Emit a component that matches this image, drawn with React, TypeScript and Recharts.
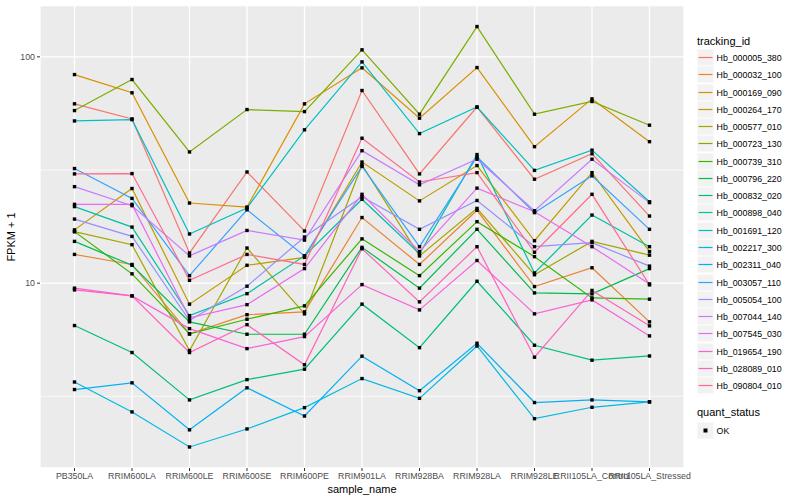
import React from 'react';
import { LineChart, Line, XAxis, YAxis, CartesianGrid, ReferenceLine } from 'recharts';

const samples = [
  'PB350LA', 'RRIM600LA', 'RRIM600LE', 'RRIM600SE', 'RRIM600PE', 'RRIM901LA',
  'RRIM928BA', 'RRIM928LA', 'RRIM928LE', 'RRII105LA_Control', 'RRII105LA_Stressed'
];

const trackingIds = [
  'Hb_000005_380', 'Hb_000032_100', 'Hb_000169_090', 'Hb_000264_170', 'Hb_000577_010',
  'Hb_000723_130', 'Hb_000739_310', 'Hb_000796_220', 'Hb_000832_020', 'Hb_000898_040',
  'Hb_001691_120', 'Hb_002217_300', 'Hb_002311_040', 'Hb_003057_110', 'Hb_005054_100',
  'Hb_007044_140', 'Hb_007545_030', 'Hb_019654_190', 'Hb_028089_010', 'Hb_090804_010'
];

const COLORS = [
  '#F8766D', '#EA8331', '#D89000', '#C09B00', '#A3A500', '#7CAE00', '#39B600', '#00BB4E',
  '#00BF7D', '#00C1A3', '#00BFC4', '#00BAE0', '#00B0F6', '#35A2FF', '#9590FF', '#C77CFF',
  '#E76BF3', '#FA62DB', '#FF62BC', '#FF6C90'
];

// FPKM + 1 per sample, one array per tracking_id
const hb000005_380 = [62.0, 53.2, 13.6, 31.0, 17.0, 71.0, 30.4, 60.0, 28.8, 37.3, 19.8];
const hb000032_100 = [13.4, 12.1, 5.97, 7.26, 7.47, 19.5, 12.1, 21.0, 9.66, 11.7, 6.75];
const hb000169_090 = [83.5, 69.4, 22.6, 21.7, 62.0, 89.4, 53.6, 89.7, 40.1, 65.2, 42.2];
const hb000264_170 = [17.2, 26.2, 8.08, 12.0, 13.0, 34.3, 23.1, 33.1, 15.4, 30.8, 13.8];
const hb000577_010 = [16.9, 14.8, 5.04, 14.3, 7.32, 33.3, 13.2, 21.4, 10.9, 15.3, 13.3];
const hb000723_130 = [57.9, 79.4, 38.0, 58.5, 57.3, 107.4, 55.8, 136.1, 55.8, 63.5, 49.9];
const hb000739_310 = [16.9, 11.0, 5.97, 6.93, 7.94, 15.7, 10.8, 18.7, 13.1, 8.61, 8.5];
const hb000796_220 = [15.3, 12.0, 6.75, 5.95, 5.95, 14.4, 9.51, 17.3, 9.06, 8.97, 11.6];
const hb000832_020 = [6.5, 4.94, 3.05, 3.75, 4.17, 8.08, 5.19, 10.2, 5.32, 4.57, 4.77];
const hb000898_040 = [21.8, 17.7, 7.19, 8.99, 13.2, 23.5, 13.5, 37.0, 11.1, 20.0, 14.5];
const hb001691_120 = [52.1, 52.8, 16.5, 21.5, 47.6, 95.0, 45.8, 60.0, 31.5, 38.7, 22.9];
const hb002217_300 = [3.66, 2.7, 1.89, 2.27, 2.82, 3.79, 3.1, 5.28, 2.52, 2.83, 2.99];
const hb002311_040 = [3.39, 3.63, 2.25, 3.45, 2.59, 4.76, 3.35, 5.43, 2.97, 3.05, 2.99];
const hb003057_110 = [32.1, 23.7, 10.8, 21.1, 13.2, 32.8, 14.5, 36.1, 20.5, 29.8, 17.3];
const hb005054_100 = [19.2, 16.1, 6.84, 9.7, 16.0, 24.1, 17.3, 23.2, 14.5, 15.1, 11.9];
const hb007044_140 = [26.7, 22.0, 13.2, 17.1, 15.5, 38.5, 27.2, 35.3, 20.9, 35.3, 22.7];
const hb007545_030 = [22.3, 22.3, 7.03, 8.04, 11.6, 24.7, 13.8, 26.3, 20.7, 14.5, 9.93];
const hb019654_190 = [9.51, 8.79, 6.3, 5.14, 5.81, 9.86, 7.62, 12.6, 7.32, 8.44, 5.85];
const hb028089_010 = [9.34, 8.79, 4.94, 6.56, 4.36, 14.2, 8.27, 14.5, 4.71, 9.29, 6.48];
const hb090804_010 = [30.4, 30.5, 10.3, 13.4, 12.1, 43.7, 28.0, 30.8, 13.7, 24.7, 9.83];

const seriesValues = [
  hb000005_380, hb000032_100, hb000169_090, hb000264_170, hb000577_010,
  hb000723_130, hb000739_310, hb000796_220, hb000832_020, hb000898_040,
  hb001691_120, hb002217_300, hb002311_040, hb003057_110, hb005054_100,
  hb007044_140, hb007545_030, hb019654_190, hb028089_010, hb090804_010
];

const yTicks = [10, 100];
const yMinor = [3.1623, 31.623];

const data = samples.map((s, i) => {
  const row: Record<string, any> = { sample_name: s };
  trackingIds.forEach((id, k) => {
    row[id] = seriesValues[k][i];
  });
  return row;
});

const FONT = '"Liberation Sans", Arial, Helvetica, sans-serif';

const Square = (props: any) => {
  const { cx, cy, index, dataKey } = props;
  if (cx == null || cy == null) return <g key={`${dataKey}-${index}`} />;
  return <rect key={`${dataKey}-${index}`} x={cx - 1.7} y={cy - 1.7} width={3.4} height={3.4} fill="#000" />;
};

const KEY = 17;

export default function App() {
  return (
    <div style={{ position: 'absolute', left: 0, top: 0, width: 800, height: 500, fontFamily: FONT, background: '#fff' }}>
      <LineChart width={800} height={500} data={data} margin={{ top: 5.5, right: 116, bottom: 0, left: 0 }}>
        <CartesianGrid fill="#EBEBEB" stroke="#FFFFFF" strokeWidth={1.3} />
        {yMinor.map((v) => (
          <ReferenceLine key={v} y={v} stroke="#FFFFFF" strokeWidth={0.7} ifOverflow="hidden" />
        ))}
        <XAxis
          dataKey="sample_name"
          interval={0}
          padding={{ left: 34.5, right: 34.5 }}
          height={32}
          tickSize={3}
          axisLine={false}
          tickLine={{ stroke: '#333333' }}
          tick={{ fontSize: 8.8, fill: '#4D4D4D', fontFamily: FONT }}
        />
        <YAxis
          scale="log"
          type="number"
          domain={[1.526, 168.6]}
          allowDataOverflow
          ticks={yTicks}
          width={40}
          tickSize={3}
          axisLine={false}
          tickLine={{ stroke: '#333333' }}
          tick={{ fontSize: 8.8, fill: '#4D4D4D', fontFamily: FONT }}
        />
        {trackingIds.map((id, k) => (
          <Line
            key={id}
            dataKey={id}
            stroke={COLORS[k]}
            strokeWidth={1.2}
            dot={false}
            activeDot={false}
            type="linear"
            isAnimationActive={false}
          />
        ))}
        {trackingIds.map((id) => (
          <Line
            key={`${id}-pts`}
            dataKey={id}
            stroke="none"
            dot={Square}
            activeDot={false}
            type="linear"
            legendType="none"
            isAnimationActive={false}
          />
        ))}
      </LineChart>

      <div style={{ position: 'absolute', left: 11, top: 236.7, transform: 'translate(-50%, -50%) rotate(-90deg)', fontSize: 11, whiteSpace: 'nowrap', color: '#000' }}>
        FPKM + 1
      </div>
      <div style={{ position: 'absolute', left: 362, top: 489, transform: 'translate(-50%, -50%)', fontSize: 11, whiteSpace: 'nowrap', color: '#000' }}>
        sample_name
      </div>

      <div style={{ position: 'absolute', left: 697, top: 40.7, transform: 'translateY(-50%)', fontSize: 11, color: '#000', whiteSpace: 'nowrap' }}>
        tracking_id
      </div>
      {trackingIds.map((id, k) => (
        <div key={id} style={{ position: 'absolute', left: 697, top: Math.round(49 + k * 17.27), height: KEY, display: 'flex', alignItems: 'center' }}>
          <svg width={KEY} height={KEY} style={{ display: 'block' }}>
            <rect x={0.5} y={0.5} width={KEY - 1} height={KEY - 1} fill="#F2F2F2" />
            <line x1={1.5} x2={KEY - 1.5} y1={8.5} y2={8.5} stroke={COLORS[k]} strokeWidth={1.2} />
          </svg>
          <span style={{ marginLeft: 2.6, fontSize: 8.8, color: '#000', whiteSpace: 'nowrap' }}>{id}</span>
        </div>
      ))}
      <div style={{ position: 'absolute', left: 697, top: 411.7, transform: 'translateY(-50%)', fontSize: 11, color: '#000', whiteSpace: 'nowrap' }}>
        quant_status
      </div>
      <div style={{ position: 'absolute', left: 697, top: 422, height: KEY, display: 'flex', alignItems: 'center' }}>
        <svg width={KEY} height={KEY} style={{ display: 'block' }}>
          <rect x={0.5} y={0.5} width={KEY - 1} height={KEY - 1} fill="#F2F2F2" />
          <rect x={6.5} y={6.5} width={4} height={4} fill="#000" />
        </svg>
        <span style={{ marginLeft: 2.6, fontSize: 8.8, color: '#000' }}>OK</span>
      </div>
    </div>
  );
}
